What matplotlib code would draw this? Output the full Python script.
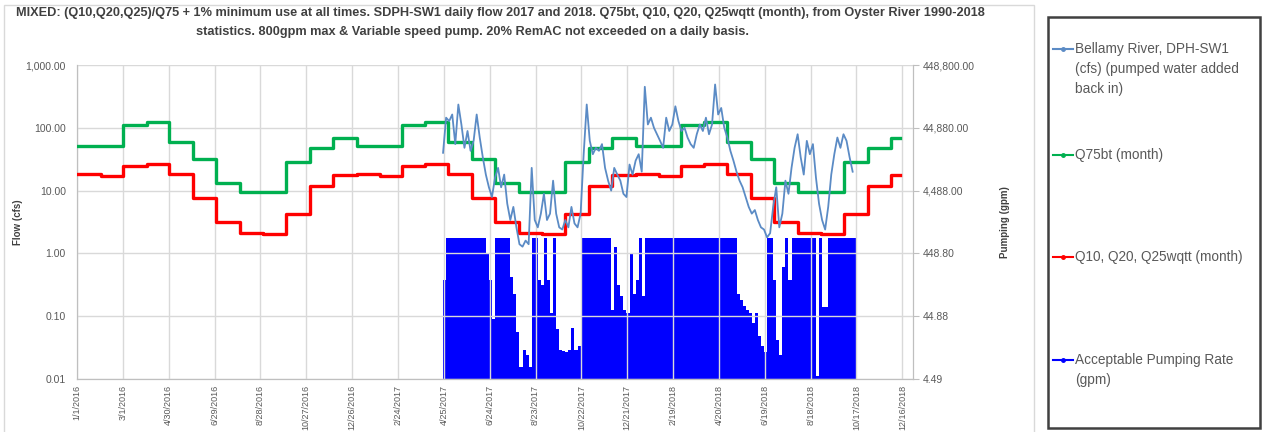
import matplotlib
matplotlib.use("Agg")
import matplotlib.pyplot as plt
import matplotlib.dates as mdates
import matplotlib.ticker as mticker
from matplotlib.lines import Line2D
from matplotlib.patches import Rectangle
import pandas as pd

plt.rcParams['font.family'] = ['Liberation Sans', 'DejaVu Sans']

# Monthly statistics (cfs), Jan..Dec, same every year
q75bt_month = [51, 51, 112, 122, 59, 32, 13, 9.5, 9.5, 29, 47, 69]
qwqtt_month = [18.3, 17, 25, 27, 18.3, 7.6, 3.2, 2.1, 2.0, 4.3, 11.8, 17.5]
stat_years = [2016, 2017, 2018]
stat_end = "2018-12-13"

# Bellamy River daily flow (cfs), read every 4 days from 4/24/2017
flow_start = "2017-04-24"
flow_step_days = 4
flow_cfs = [40, 145, 128, 163, 55, 235, 113, 48, 89, 43,
            62, 163, 70, 34, 18, 11.3, 7.9, 16, 23, 11.3,
            18, 6.2, 3.4, 5.5, 2.6, 1.4, 1.28, 1.6, 1.4, 23,
            3.4, 2.6, 4.3, 8.9, 3.4, 4.3, 14.4, 4.3, 2.6, 2.4,
            3.4, 2.6, 5.5, 3.0, 2.6, 4.3, 38, 235, 62, 38,
            48, 43, 55, 23, 14.4, 10, 23, 18, 14.4, 8.9,
            7.9, 26, 18, 30, 38, 20, 450, 113, 145, 100,
            79, 62, 48, 145, 89, 113, 220, 128, 89, 100,
            70, 55, 48, 79, 113, 89, 145, 79, 113, 490,
            163, 207, 100, 70, 43, 30, 20, 14.4, 11.3, 7.9,
            5.5, 4.3, 4.9, 3.4, 2.6, 2.4, 1.8, 2.1, 5.5, 11.3,
            2.6, 4.3, 14.4, 8.9, 23, 48, 79, 34, 18, 62,
            38, 55, 16, 6.2, 3.4, 2.4, 5.5, 18, 38, 70,
            48, 79, 62, 34, 20]

# Acceptable pumping rate (gpm), same dates as the flow
pump_gpm = [170, 800, 800, 800, 800, 800, 800, 800, 800, 800,
            800, 800, 800, 800, 449, 170, 40, 800, 800, 800,
            800, 800, 190, 100, 25, 7, 13, 11, 7, 800,
            800, 170, 140, 800, 170, 51, 800, 28, 13, 12.5,
            12, 13, 29, 13, 15, 800, 800, 800, 800, 800,
            800, 800, 800, 800, 800, 57, 574, 140, 93, 57,
            51, 449, 100, 170, 800, 93, 800, 800, 800, 800,
            800, 800, 800, 800, 800, 800, 800, 800, 800, 800,
            800, 800, 800, 800, 800, 800, 800, 800, 800, 800,
            800, 800, 800, 800, 800, 800, 100, 82, 65, 57,
            51, 35, 51, 22, 15, 12, 800, 800, 170, 19,
            11, 276, 800, 170, 800, 800, 800, 800, 800, 800,
            800, 800, 5, 800, 63, 63, 800, 800, 800, 800,
            800, 800, 800, 800, 800]

cfs_to_gpm = 448.8

title_lines = ["MIXED: (Q10,Q20,Q25)/Q75 + 1% minimum use at all times. SDPH-SW1 daily flow 2017 and 2018. "
               "Q75bt, Q10, Q20, Q25wqtt (month), from Oyster River 1990-2018",
               "statistics. 800gpm max & Variable speed pump. 20% RemAC not exceeded on a daily basis."]

legend_labels = [["Bellamy River, DPH-SW1", "(cfs) (pumped water added", "back in)"],
                 ["Q75bt (month)"],
                 ["Q10, Q20, Q25wqtt (month)"],
                 ["Acceptable Pumping Rate", "(gpm)"]]

# build series
month_dates = [pd.Timestamp(year=y, month=m, day=1) for y in stat_years for m in range(1, 13)]
month_dates.append(pd.Timestamp(stat_end))
q75_vals = q75bt_month * len(stat_years) + [q75bt_month[-1]]
qw_vals = qwqtt_month * len(stat_years) + [qwqtt_month[-1]]

flow_dates = pd.date_range(flow_start, periods=len(flow_cfs), freq=f"{flow_step_days}D")

fig = plt.figure(figsize=(12.75, 4.32), dpi=100)
ax = fig.add_axes([0.0604, 0.1227, 0.6557, 0.7268])
ax2 = ax.twinx()

gray = "#595959"
grid_c = "#D9D9D9"

# pumping columns on secondary axis
ax2.bar(flow_dates, pump_gpm, width=flow_step_days, align='edge', color='#0000FF',
        edgecolor='none', zorder=1)
ax2.set_yscale('log')
ax2.set_ylim(0.01 * cfs_to_gpm, 1000 * cfs_to_gpm)

ax.set_zorder(ax2.get_zorder() + 1)
ax.patch.set_visible(False)

ax.plot(month_dates, q75_vals, drawstyle='steps-post', color='#00B050', lw=2.4, zorder=3)
ax.plot(month_dates, qw_vals, drawstyle='steps-post', color='#FF0000', lw=2.4, zorder=3)
ax.plot(flow_dates, flow_cfs, color='#5B8BC5', lw=1.3, zorder=4)

ax.set_yscale('log')
ax.set_ylim(0.01, 1000)
ax.set_xlim(pd.Timestamp("2016-01-01"), pd.Timestamp("2018-12-30"))

xticks = pd.date_range("2016-01-01", periods=19, freq="60D")
ax.set_xticks(xticks)
ax.xaxis.set_major_formatter(mticker.FuncFormatter(
    lambda v, p: (lambda d: f"{d.month}/{d.day}/{d.year}")(mdates.num2date(v))))
ax.tick_params(axis='x', labelrotation=90, labelsize=6.5, colors=gray, length=0, pad=4)

ax.set_yticks([0.01, 0.1, 1, 10, 100, 1000])
ax.yaxis.set_minor_locator(mticker.NullLocator())
ax.yaxis.set_major_formatter(mticker.FuncFormatter(lambda v, p: f"{v:,.2f}"))
ax.tick_params(axis='y', labelsize=7.5, colors=gray, length=0, pad=8)

ax2.set_yticks([0.01 * cfs_to_gpm * 10 ** k for k in range(6)])
ax2.yaxis.set_minor_locator(mticker.NullLocator())
ax2.yaxis.set_major_formatter(mticker.FuncFormatter(lambda v, p: f"{v:,.2f}"))
ax2.tick_params(axis='y', labelsize=7.5, colors=gray, length=4, color='#BFBFBF', pad=3)

ax.grid(True, color=grid_c, lw=1)
ax.set_axisbelow(True)
for a in (ax, ax2):
    for s in a.spines.values():
        s.set_color('#BFBFBF')
    a.spines['top'].set_visible(False)

ax.set_ylabel("Flow (cfs)", fontsize=7, fontweight='bold', color='#404040', labelpad=2)
ax2.set_ylabel("Pumping (gpm)", fontsize=7, fontweight='bold', color='#404040', labelpad=18)

# two-line title
fig.text(500 / 1275, 1 - 13 / 432, title_lines[0], ha='center', va='center', fontsize=9.2,
         fontweight='bold', color='#404040')
fig.text(472 / 1275, 1 - 32 / 432, title_lines[1], ha='center', va='center', fontsize=9.2,
         fontweight='bold', color='#404040')

# legend box to the right
fig.add_artist(Rectangle((1048 / 1275, 1 - 428 / 432), 212 / 1275, 411 / 432,
                         transform=fig.transFigure, fill=False, edgecolor='#404040', lw=1.8))
handle_colors = ['#5B8BC5', '#00B050', '#FF0000', '#0000FF']
row_y = [49, 155, 257, 360]
for lines, c, y0 in zip(legend_labels, handle_colors, row_y):
    yf = 1 - y0 / 432
    fig.add_artist(Line2D([1053 / 1275, 1073 / 1275], [yf, yf], transform=fig.transFigure,
                          color=c, lw=1.5))
    fig.add_artist(Line2D([1063 / 1275], [yf], transform=fig.transFigure,
                          color=c, marker='o', markersize=2.5, lw=0))
    for k, line in enumerate(lines):
        fig.text(1075 / 1275, 1 - (y0 + 20 * k) / 432, line, ha='left', va='center',
                 fontsize=9.8, color=gray)

# faint outer frame
fig.add_artist(Rectangle((4 / 1275, -0.01), 1030 / 1275, 1 - 5 / 432 + 0.01,
                         transform=fig.transFigure, fill=False, edgecolor='#D9D9D9', lw=1))

fig.savefig("out.png", dpi=100)
